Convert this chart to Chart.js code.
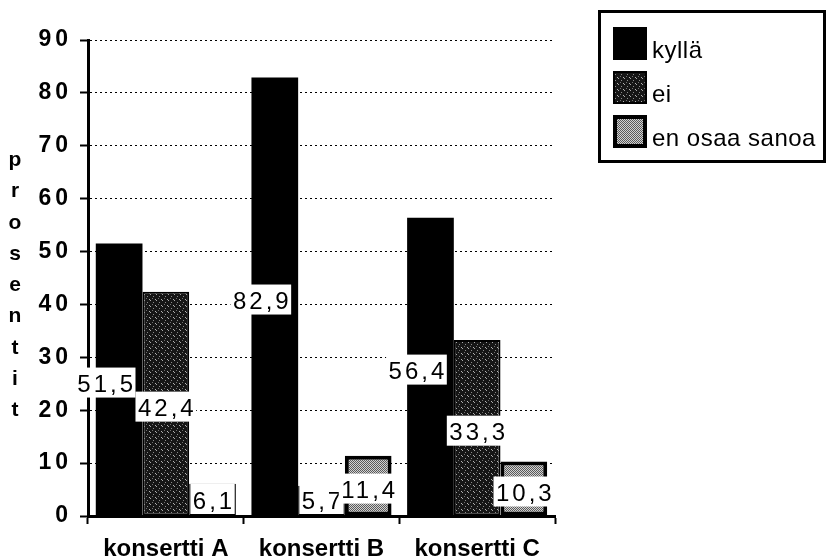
<!DOCTYPE html>
<html lang="fi">
<head>
<meta charset="utf-8">
<title>Konsertit</title>
<script src="https://cdn.jsdelivr.net/npm/chart.js@4.4.1/dist/chart.umd.min.js"></script>
<style>
  html, body { margin: 0; padding: 0; background: #fff; }
  #chart { display: block; }
</style>
</head>
<body>
<canvas id="chart" width="827" height="560"></canvas>
<script>
const categories = ['konsertti A', 'konsertti B', 'konsertti C'];
const seriesNames = ['kyllä', 'ei', 'en osaa sanoa'];
const kylla = [51.5, 82.9, 56.4];
const ei = [42.4, 5.7, 33.3];
const enOsaaSanoa = [6.1, 11.4, 10.3];
const yTicks = [0, 10, 20, 30, 40, 50, 60, 70, 80, 90];
const axisTitle = 'prosentit';

const FONT = '"Liberation Sans", Arial, Helvetica, sans-serif';

// small fixed dither tiles, like the old printer greys
function makePattern(base, dots, size) {
  const c = document.createElement('canvas');
  c.width = size;
  c.height = size;
  const g = c.getContext('2d');
  g.fillStyle = base;
  g.fillRect(0, 0, size, size);
  dots.forEach(([x, y, col]) => {
    g.fillStyle = col;
    g.fillRect(x, y, 1, 1);
  });
  return g.createPattern(c, 'repeat');
}

const eiFill = makePattern('#161616', [[0, 0, '#a8a8a8'], [3, 2, '#8a8a8a'], [5, 5, '#b4b4b4'], [2, 4, '#6e6e6e']], 6);
const enFill = makePattern('#d2d2d2', [[0, 0, '#5a5a5a'], [1, 1, '#5a5a5a']], 2);

function formatValue(v) {
  return v.toFixed(1).replace('.', ',');
}

const barLabels = {
  id: 'barLabels',
  beforeDraw(chart) {
    chart.ctx.letterSpacing = '0px';
  },
  afterDatasetsDraw(chart) {
    const ctx = chart.ctx;
    const bottom = chart.chartArea.bottom;
    ctx.save();
    ctx.font = `24px ${FONT}`;
    ctx.letterSpacing = '3px';
    ctx.textAlign = 'center';
    ctx.textBaseline = 'middle';
    chart.data.datasets.forEach((ds, i) => {
      const meta = chart.getDatasetMeta(i);
      meta.data.forEach((bar, j) => {
        const text = formatValue(ds.data[j]);
        const w = ctx.measureText(text).width + 2;
        const h = 30;
        const x = bar.x + (ds.labelShift || 0);
        let cy = (bar.y + bar.base) / 2 + 3;
        if (cy + h / 2 > bottom - 2) cy = bottom - 2 - h / 2;
        ctx.fillStyle = '#fff';
        ctx.fillRect(x - w / 2, cy - h / 2, w, h);
        ctx.fillStyle = '#000';
        ctx.fillText(text, x + 1.5, cy + 3);
      });
    });
    ctx.restore();
    // y tick labels (ticks.z = 1) are drawn after this point
    ctx.letterSpacing = '4px';
  }
};

const sideParts = {
  id: 'sideParts',
  afterDraw(chart) {
    const ctx = chart.ctx;
    ctx.save();
    ctx.letterSpacing = '0px';

    // stacked axis title
    ctx.fillStyle = '#000';
    ctx.font = `bold 21px ${FONT}`;
    ctx.textAlign = 'center';
    ctx.textBaseline = 'alphabetic';
    axisTitle.split('').forEach((ch, i) => {
      ctx.fillText(ch, 15, 160 + i * 31.25 + 6);
    });

    // boxed legend
    ctx.lineWidth = 3;
    ctx.strokeStyle = '#000';
    ctx.strokeRect(599.5, 11.5, 225, 150);
    ctx.letterSpacing = '0.5px';
    ctx.font = `24px ${FONT}`;
    ctx.textAlign = 'left';
    chart.data.datasets.forEach((ds, i) => {
      const top = 27 + i * 44;
      const inset = ds.borderWidth || 0;
      ctx.fillStyle = '#000';
      ctx.fillRect(613, top, 34, 33);
      ctx.fillStyle = ds.backgroundColor;
      ctx.fillRect(613 + inset, top + inset, 34 - 2 * inset, 33 - 2 * inset);
      ctx.fillStyle = '#000';
      ctx.fillText(ds.label, 652, top + 31);
    });
    ctx.restore();
    ctx.letterSpacing = '0px';
  }
};

new Chart(document.getElementById('chart'), {
  type: 'bar',
  data: {
    labels: categories,
    datasets: [
      { label: seriesNames[0], data: kylla, backgroundColor: '#000', borderColor: '#000', borderWidth: 0, labelShift: -14 },
      { label: seriesNames[1], data: ei, backgroundColor: eiFill, borderColor: '#000', borderWidth: 2 },
      { label: seriesNames[2], data: enOsaaSanoa, backgroundColor: enFill, borderColor: '#000', borderWidth: 4 }
    ]
  },
  options: {
    responsive: false,
    animation: false,
    events: [],
    layout: { padding: { top: 40, right: 272, left: 0, bottom: 0 } },
    datasets: { bar: { categoryPercentage: 0.9, barPercentage: 1, borderSkipped: false } },
    plugins: { legend: { display: false }, tooltip: { enabled: false } },
    scales: {
      x: {
        grid: { display: true, drawOnChartArea: false, drawTicks: true, tickLength: 8, tickColor: '#000', tickWidth: 2, offset: true },
        border: { display: true, color: '#000', width: 3 },
        ticks: { color: '#000', font: { family: FONT, size: 24, weight: 'bold' }, padding: 11, maxRotation: 0, autoSkip: false },
        afterFit: (scale) => { scale.height = 44; }
      },
      y: {
        min: 0,
        max: 90,
        afterBuildTicks: (scale) => { scale.ticks = yTicks.map(v => ({ value: v })); },
        grid: { color: '#000', lineWidth: 1, tickLength: 8, tickColor: '#000', tickWidth: 2, tickBorderDash: [] },
        border: { display: true, color: '#000', width: 3, dash: [2, 3] },
        ticks: { color: '#000', font: { family: FONT, size: 23, weight: 'bold' }, padding: 8, z: 1 },
        afterFit: (scale) => { scale.width = 88; }
      }
    }
  },
  plugins: [barLabels, sideParts]
});
</script>
</body>
</html>
